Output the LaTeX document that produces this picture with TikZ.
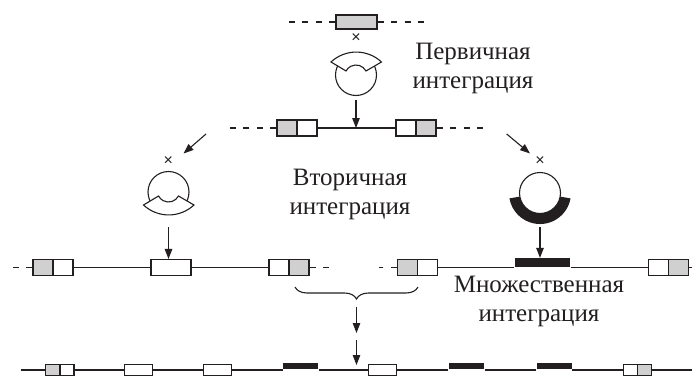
\documentclass[tikz,border=0pt]{standalone}
\usepackage{fontspec}
\setmainfont{Liberation Serif}
\newfontfamily\crossfont{Liberation Sans}
\usetikzlibrary{arrows.meta,decorations.pathreplacing}
\definecolor{ink}{RGB}{35,31,32}
\definecolor{boxgrey}{RGB}{208,208,208}

\begin{document}
\begin{tikzpicture}[
  x=1pt,
  y=-1pt,
  color=ink,
  line width=1.1pt,
  >={Triangle[length=10pt,width=7.5pt]},
  half/.style={draw, rectangle, minimum width=20pt, minimum height=16pt, inner sep=0pt},
  greybox/.style={half, fill=boxgrey},
  whitebox/.style={half, fill=white},
  longbox/.style={whitebox, minimum width=40pt},
  blackbar/.style={rectangle, fill=ink, minimum width=55pt, minimum height=8.5pt,
    inner sep=0pt, anchor=south},
  halfsm/.style={draw, rectangle, minimum width=14pt, minimum height=11.5pt, inner sep=0pt},
  greysm/.style={halfsm, fill=boxgrey},
  whitesm/.style={halfsm, fill=white},
  longsm/.style={whitesm, minimum width=28pt},
  barsm/.style={rectangle, fill=ink, minimum width=35pt, minimum height=6.5pt,
    inner sep=0pt, anchor=south},
  plasmid/.style={draw, circle, fill=white, minimum size=41pt, inner sep=0pt},
  cross/.style={font=\crossfont\fontsize{16}{16}\selectfont, inner sep=1pt},
  caption/.style={align=center, font=\fontsize{25}{29}\selectfont},
  loose/.style={dash pattern=on 6pt off 7.5pt},
  flow/.style={->},
  gather/.style={decorate, decoration={brace, mirror, amplitude=12pt}}
]
\useasboundingbox (0,0) rectangle (699,375);

% first insertion
\node[greybox, minimum width=41pt, minimum height=14pt] (ins) at (356.5,22) {};
\coordinate (e1a) at (287,22);
\coordinate (e1b) at (425,22);
\draw[loose] (ins.west) -- (e1a);
\draw[loose] (ins.east) -- (e1b);
\node[cross] (cross1) at (356,38.5) {×};
\node[plasmid] (p1) at (356,75) {};
\draw[fill=white] (331,62) arc[start angle=227, end angle=313, radius=37]
  -- (366,71) arc[start angle=-28, end angle=-152, radius=11.3] -- cycle;
\node[caption] (prim) at (473,68) {Первичная\\интеграция};

% row after first insertion
\node[greybox] (g2l) at (287,128) {};
\node[whitebox] (w2l) at (307,128) {};
\node[whitebox] (w2r) at (406,128) {};
\node[greybox] (g2r) at (426,128) {};
\coordinate (e2l) at (226,128);
\coordinate (e2r) at (487,128);
\draw[loose] (g2l.west) -- (e2l);
\draw (w2l.east) -- (w2r.west);
\draw[loose] (g2r.east) -- (e2r);
\draw[flow, shorten <=4pt] (p1.south) -- (p1.south |- w2l.east);

% second insertion
\coordinate (s2l) at (206,134);
\coordinate (t2l) at (183.5,153.5);
\coordinate (s2r) at (506.7,134);
\coordinate (t2r) at (530,153.5);
\draw[flow] (s2l) -- (t2l);
\draw[flow] (s2r) -- (t2r);
\node[cross] (cross2) at (168.3,160.7) {×};
\node[cross] (cross3) at (540,160.7) {×};
\node[plasmid] (p2) at (168.5,192) {};
\draw[fill=white] (143.5,205) arc[start angle=133, end angle=47, radius=37]
  -- (178.5,196) arc[start angle=28, end angle=152, radius=11.3] -- cycle;
\node[plasmid] (p3) at (540,193) {};
\fill[ink] (570.5,198.4) arc[start angle=10, end angle=170, radius=31]
  -- (519.8,196.6) arc[start angle=170, end angle=10, radius=20.5] -- cycle;
\node[caption] (sec) at (350,194) {Вторичная\\интеграция};

% rows after second insertion
\node[greybox] (g3a) at (43,267.5) {};
\node[whitebox] (w3a) at (63,267.5) {};
\node[longbox] (big3) at (171,267.5) {};
\node[whitebox] (w3b) at (279,267.5) {};
\node[greybox] (g3b) at (299,267.5) {};
\coordinate (e3a) at (11,267.5);
\coordinate (e3b) at (332,267.5);
\draw[loose] (g3a.west) -- (e3a);
\draw (w3a.east) -- (big3.west);
\draw (big3.east) -- (w3b.west);
\draw[loose] (g3b.east) -- (e3b);
\coordinate (fan2) at (168.5,215);
\draw[flow, shorten <=12pt] (fan2) -- (fan2 |- big3.north);

\node[greybox] (g3c) at (407.3,267.5) {};
\node[whitebox] (w3c) at (427.3,267.5) {};
\node[blackbar] (bar3) at (542.5,267.5) {};
\node[whitebox] (w3d) at (658.3,267.5) {};
\node[greybox] (g3d) at (678.3,267.5) {};
\coordinate (e3c) at (379,267.5);
\coordinate (e3d) at (692,267.5);
\draw[loose] (g3c.west) -- (e3c);
\draw (w3c.east) -- (bar3.south west);
\draw (bar3.south east) -- (w3d.west);
\draw (g3d.east) -- (e3d);
\coordinate (band3) at (540,224);
\draw[flow, shorten <=3pt] (band3) -- (band3 |- bar3.north);

% multiple insertion
\coordinate (bra) at (295,287);
\coordinate (brb) at (418,287);
\draw[gather] (bra) -- (brb);
\coordinate (m1) at (356.5,306.5);
\coordinate (m2) at (356.5,333);
\coordinate (m3) at (356.5,340);
\coordinate (m4) at (356.5,365);
\draw[flow] (m1) -- (m2);
\draw[flow] (m3) -- (m4);
\node[caption] (mult) at (539,301) {Множественная\\интеграция};

\node[greysm] (g4a) at (52.9,370) {};
\node[whitesm] (w4a) at (67,370) {};
\node[longsm] (w4b) at (138.2,370) {};
\node[longsm] (w4c) at (217.2,370) {};
\node[barsm] (bar4a) at (300.8,370) {};
\node[longsm] (w4d) at (382.9,370) {};
\node[barsm] (bar4b) at (466.5,370) {};
\node[barsm] (bar4c) at (554.2,370) {};
\node[whitesm] (w4e) at (630.3,370) {};
\node[greysm] (g4e) at (644.5,370) {};
\coordinate (e4a) at (20.7,370);
\coordinate (e4b) at (691.7,370);
\draw (e4a) -- (g4a.west);
\draw (w4a.east) -- (w4b.west);
\draw (w4b.east) -- (w4c.west);
\draw (w4c.east) -- (bar4a.south west);
\draw (bar4a.south east) -- (w4d.west);
\draw (w4d.east) -- (bar4b.south west);
\draw (bar4b.south east) -- (bar4c.south west);
\draw (bar4c.south east) -- (w4e.west);
\draw (g4e.east) -- (e4b);
\end{tikzpicture}
\end{document}
